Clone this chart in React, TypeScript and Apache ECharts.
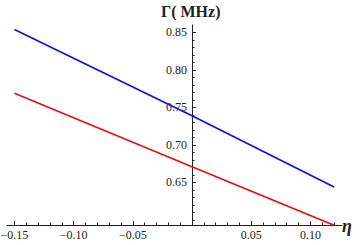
import React, { useEffect, useRef } from "react";
import * as echarts from "echarts";

const blueX = [-0.15, 0, 0.12];
const blueY = [0.854, 0.739, 0.644];
const redX = [-0.15, 0, 0.12];
const redY = [0.769, 0.671, 0.593];

const xMajorTicks = [-0.15, -0.1, -0.05, 0.05, 0.1];
const xMinorTicks = [-0.15, -0.14, -0.13, -0.12, -0.11, -0.1, -0.09, -0.08, -0.07, -0.06, -0.05, -0.04, -0.03, -0.02, -0.01, 0.01, 0.02, 0.03, 0.04, 0.05, 0.06, 0.07, 0.08, 0.09, 0.1, 0.11, 0.12];
const yMajorTicks = [0.65, 0.7, 0.75, 0.8, 0.85];
const yMinorTicks = [0.6, 0.61, 0.62, 0.63, 0.64, 0.65, 0.66, 0.67, 0.68, 0.69, 0.7, 0.71, 0.72, 0.73, 0.74, 0.75, 0.76, 0.77, 0.78, 0.79, 0.8, 0.81, 0.82, 0.83, 0.84, 0.85];

const yTitle = "Γ( MHz)";
const xTitle = "η";

const FONT = "Liberation Serif";
const fmt = (v: number) => v.toFixed(2).replace("-", "\u2212");

export default function App() {
  const ref = useRef<HTMLDivElement>(null);
  useEffect(() => {
    document.body.style.margin = "0";
    const chart = echarts.init(ref.current!, null, { renderer: "svg" });
    const xMin = -0.1563;
    const xMax = 0.1267;
    const yMin = 0.5933;
    const yMax = 0.86;
    const lineCol = "#222";
    // x pixel of the zero line: 7 + (0 - xMin) / (xMax - xMin) * 335
    const zeroLeft = 7 + ((0 - xMin) / (xMax - xMin)) * 335;
    chart.setOption({
      animation: false,
      backgroundColor: "#fff",
      grid: [
        { left: 7, right: 18, top: 25, bottom: 20, containLabel: false, outerBoundsMode: "none" },
        { left: zeroLeft, right: 18, top: 25, bottom: 20, containLabel: false, outerBoundsMode: "none" },
      ],
      xAxis: [
        {
          gridIndex: 0, type: "value", min: xMin, max: xMax, position: "bottom",
          axisLine: { onZero: false, lineStyle: { color: lineCol, width: 1 } },
          axisTick: { inside: true, length: 4, customValues: xMajorTicks, lineStyle: { color: lineCol } },
          axisLabel: { customValues: xMajorTicks, formatter: fmt, margin: 4, fontFamily: FONT, fontSize: 12, color: "#222" },
          splitLine: { show: false },
        },
        {
          gridIndex: 0, type: "value", min: xMin, max: xMax, position: "bottom",
          axisLine: { show: false, onZero: false },
          axisTick: { inside: true, length: 2.5, customValues: xMinorTicks, lineStyle: { color: lineCol } },
          axisLabel: { show: false },
          splitLine: { show: false },
        },
        {
          gridIndex: 1, type: "value", min: 0, max: 1, show: false,
        },
      ],
      yAxis: [
        {
          gridIndex: 0, type: "value", min: yMin, max: yMax, show: false,
        },
        {
          gridIndex: 1, type: "value", min: yMin, max: yMax, position: "left",
          axisLine: { onZero: false, lineStyle: { color: lineCol, width: 1 } },
          axisTick: { inside: true, length: 4, customValues: yMajorTicks, lineStyle: { color: lineCol } },
          axisLabel: { customValues: yMajorTicks, formatter: fmt, margin: 5, fontFamily: FONT, fontSize: 12, color: "#222" },
          splitLine: { show: false },
        },
        {
          gridIndex: 1, type: "value", min: yMin, max: yMax, position: "left",
          axisLine: { show: false, onZero: false },
          axisTick: { inside: true, length: 2.5, customValues: yMinorTicks, lineStyle: { color: lineCol } },
          axisLabel: { show: false },
          splitLine: { show: false },
        },
      ],
      series: [
        {
          type: "line", xAxisIndex: 0, yAxisIndex: 0, showSymbol: false, symbol: "none",
          data: blueX.map((x, i) => [x, blueY[i]]),
          lineStyle: { color: "#1010e8", width: 1.8 },
        },
        {
          type: "line", xAxisIndex: 0, yAxisIndex: 0, showSymbol: false, symbol: "none",
          data: redX.map((x, i) => [x, redY[i]]),
          lineStyle: { color: "#e81010", width: 1.8 },
        },
      ],
      graphic: [
        { type: "text", left: 161, top: 3, style: { text: yTitle, font: `bold 16px ${FONT}`, fill: "#222" } },
        { type: "text", left: 342, top: 217, style: { text: xTitle, font: `italic bold 18px ${FONT}`, fill: "#222" } },
      ],
    });
    return () => chart.dispose();
  }, []);
  return <div ref={ref} style={{ width: 360, height: 245 }} />;
}
